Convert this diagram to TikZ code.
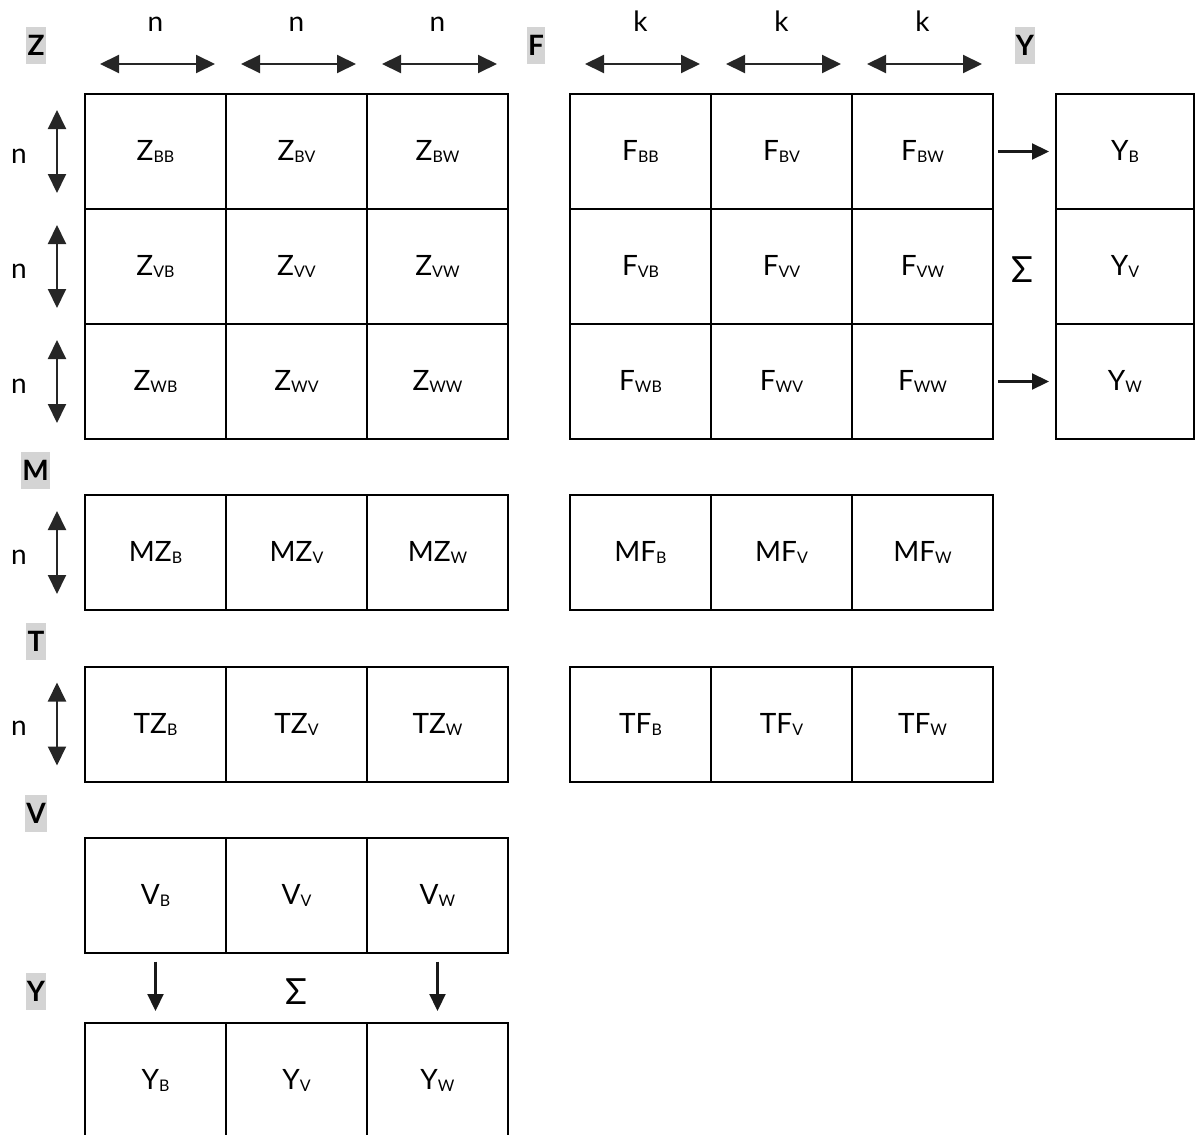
\documentclass[tikz,border=0pt]{standalone}
\usepackage{fontspec}
\setmainfont{Lato}
\usetikzlibrary{arrows.meta, positioning}

\newcommand{\lowidx}[1]{\raisebox{-1pt}{\fontsize{8}{8}\selectfont #1}}

\tikzset{
  cell/.style={draw, line width=1pt, minimum width=70.5pt, minimum height=57.5pt,
    inner sep=0pt, font=\fontsize{14}{16}\selectfont},
  mlabel/.style={fill=black!17, inner xsep=0.6pt, inner ysep=0pt, minimum height=18.5pt,
    font=\fontsize{14}{16}\selectfont\bfseries},
  dimlabel/.style={inner sep=0pt, anchor=base, font=\fontsize{14}{16}\selectfont},
  sumlabel/.style={inner sep=0pt, font=\fontsize{18}{20}\selectfont},
  dimarrow/.style={draw=black!85, line width=1pt,
    {Triangle[length=9.5pt,width=9pt]}-{Triangle[length=9.5pt,width=9pt]}},
  sumarrow/.style={draw=black!90, line width=1.1pt, -{Triangle[length=8.5pt,width=8pt]}}
}

\begin{document}
\begin{tikzpicture}[x=0.5pt, y=-0.5pt]
  \useasboundingbox (0,0) rectangle (1195,1135);

  % Z and F blocks, right Y column
  \foreach \r/\ry [count=\i] in {B/151.5, V/266.5, W/381.5} {
    \node[cell, minimum width=69pt] (yr\i) at (1125,\ry) {Y\lowidx{\r}};
    \node[dimlabel] (nl\i) at (19,\ry+11.5) {n};
    \draw[dimarrow] (57,\ry-41.5) -- (57,\ry+41.5);
    \foreach \c/\cx [count=\j] in {B/155.5, V/296.5, W/437.5} {
      \node[cell] (z\i\j) at (\cx,\ry) {Z\lowidx{\r\c}};
      \node[cell] (f\i\j) at (\cx+485,\ry) {F\lowidx{\r\c}};
    }
  }

  % M, T, V and Y rows
  \foreach \c/\cx [count=\j] in {B/155.5, V/296.5, W/437.5} {
    \node[cell] (mz\j) at (\cx,552.5) {MZ\lowidx{\c}};
    \node[cell] (mf\j) at (\cx+485,552.5) {MF\lowidx{\c}};
    \node[cell] (tz\j) at (\cx,724) {TZ\lowidx{\c}};
    \node[cell] (tf\j) at (\cx+485,724) {TF\lowidx{\c}};
    \node[cell] (v\j) at (\cx,895) {V\lowidx{\c}};
    \node[cell] (yb\j) at (\cx,1080.5) {Y\lowidx{\c}};
    % column sizes
    \node[dimlabel] (nt\j) at (\cx,32) {n};
    \node[dimlabel] (kt\j) at (\cx+485,32) {k};
    \draw[dimarrow] (\cx-55.5,64) -- (\cx+59.5,64);
    \draw[dimarrow] (\cx+429.5,64) -- (\cx+544.5,64);
  }

  % row sizes of M and T
  \node[dimlabel] (nm) at (19,564) {n};
  \draw[dimarrow] (57,511) -- (57,594);
  \node[dimlabel] (ntz) at (19,735.5) {n};
  \draw[dimarrow] (57,682.5) -- (57,765.5);

  % block names
  \node[mlabel] (lz) at (36,45) {Z};
  \node[mlabel] (lf) at (536,45) {F};
  \node[mlabel] (ly) at (1025,45) {Y};
  \node[mlabel] (lm) at (35.5,470) {M};
  \node[mlabel] (lt) at (36,641) {T};
  \node[mlabel] (lv) at (36,813) {V};
  \node[mlabel] (lyb) at (36,991) {Y};

  % sums
  \node[sumlabel] (sr) at (1022,270) {Σ};
  \draw[sumarrow, shorten <=2pt, shorten >=3pt] (f13.east) -- (yr1.west);
  \draw[sumarrow, shorten <=2pt, shorten >=3pt] (f33.east) -- (yr3.west);
  \node[sumlabel] (sb) at (296,992) {Σ};
  \draw[sumarrow, shorten <=4pt, shorten >=5.5pt] (v1.south) -- (yb1.north);
  \draw[sumarrow, shorten <=4pt, shorten >=5.5pt] (v3.south) -- (yb3.north);
\end{tikzpicture}
\end{document}
